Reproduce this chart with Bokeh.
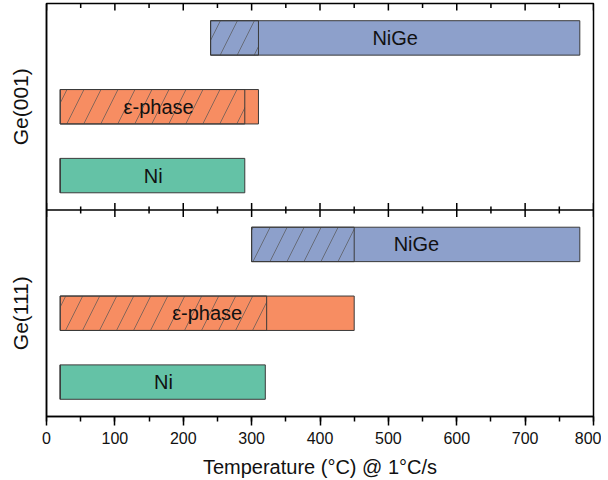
import math
from bokeh.plotting import figure
from bokeh.models import Range1d, SingleIntervalTicker, FixedTicker, Span, ColumnDataSource
from bokeh.core.properties import value
from bokeh.embed import file_html
from bokeh.resources import INLINE

# ---- data ----
phases = ["NiGe", "ε-phase", "Ni"]
colors = ["#8DA0CB", "#F78D62", "#64C2A6"]

ge001_start = [240, 20, 20]
ge001_hatch_end = [310, 290, 20]
ge001_end = [780, 310, 290]
ge001_label_x = [510, 164, 156]

ge111_start = [300, 20, 20]
ge111_hatch_end = [450, 322, 20]
ge111_end = [780, 450, 320]
ge111_label_x = [541, 235, 171]

ge001_rows = [5.5, 4.5, 3.5]
ge111_rows = [2.5, 1.5, 0.5]
panel_labels = {1.5: "Ge(111)", 4.5: "Ge(001)"}
panel_boundary = 3
y_top = 6

major_ticks = list(range(0, 801, 100))
minor_ticks = list(range(50, 800, 100))

FONT = "Liberation Sans"

p = figure(frame_width=547, frame_height=413,
           x_range=Range1d(0, 800), y_range=Range1d(0, y_top),
           output_backend="svg", toolbar_location=None,
           min_border_left=46, min_border_right=8, min_border_top=3, min_border_bottom=0,
           x_axis_location="below")
p.grid.visible = False
p.outline_line_color = "black"
p.outline_line_width = 1.5
p.background_fill_color = "white"
p.border_fill_color = "white"

# bottom x axis
xa = p.xaxis[0]
xa.ticker = SingleIntervalTicker(interval=100, num_minor_ticks=2)
xa.major_tick_in = 0
xa.major_tick_out = 9
xa.minor_tick_in = 0
xa.minor_tick_out = 5
xa.axis_line_width = 1.5
xa.major_tick_line_width = 1.5
xa.minor_tick_line_width = 1.5
xa.major_label_text_font = FONT
xa.major_label_text_font_size = "16px"
xa.major_label_text_color = "#111111"
xa.major_label_standoff = 6
xa.axis_label = "Temperature (°C) @ 1°C/s"
xa.axis_label_text_font = FONT
xa.axis_label_text_font_size = "20px"
xa.axis_label_text_font_style = "normal"
xa.axis_label_text_color = "#111111"
xa.axis_label_standoff = 9

# y axis with panel names
ya = p.yaxis[0]
ya.ticker = FixedTicker(ticks=list(panel_labels.keys()))
ya.major_label_overrides = panel_labels
ya.major_tick_in = 0
ya.major_tick_out = 0
ya.minor_tick_in = 0
ya.minor_tick_out = 0
ya.axis_line_width = 1.5
ya.major_label_orientation = "vertical"
ya.major_label_text_font = FONT
ya.major_label_text_font_size = "21px"
ya.major_label_text_color = "#111111"
ya.major_label_standoff = 15

# inward ticks along the top edge (clipped to the frame)
p.scatter(x=major_ticks, y=[y_top] * len(major_ticks), marker="dash", angle=math.pi / 2,
          size=14, line_color="black", line_width=1.5)
p.scatter(x=minor_ticks, y=[y_top] * len(minor_ticks), marker="dash", angle=math.pi / 2,
          size=9, line_color="black", line_width=1.5)

# panel divider with crossing ticks
p.add_layout(Span(location=panel_boundary, dimension="width", line_color="black", line_width=1.5))
p.scatter(x=major_ticks, y=[panel_boundary] * len(major_ticks), marker="dash", angle=math.pi / 2,
          size=14, line_color="black", line_width=1.5)
p.scatter(x=minor_ticks, y=[panel_boundary] * len(minor_ticks), marker="dash", angle=math.pi / 2,
          size=7, line_color="black", line_width=1.5)

def draw_panel(rows, start, hatch_end, end, label_x):
    src = ColumnDataSource(dict(y=rows, left=start, right=end, hend=hatch_end,
                                color=colors, name=phases, lx=label_x))
    p.hbar(y="y", left="left", right="right", height=0.5, source=src,
           fill_color="color", line_color="#3a3a3a", line_width=1)
    p.hbar(y="y", left="left", right="hend", height=0.5, source=src,
           fill_alpha=0, line_color="#3a3a3a", line_width=1,
           hatch_pattern="/", hatch_color="#555555", hatch_weight=0.7, hatch_scale=34)
    p.text(x="lx", y="y", text="name", source=src, text_align="center", text_baseline="middle",
           text_font=value(FONT), text_font_size="20px", text_color="#111111")

draw_panel(ge001_rows, ge001_start, ge001_hatch_end, ge001_end, ge001_label_x)
draw_panel(ge111_rows, ge111_start, ge111_hatch_end, ge111_end, ge111_label_x)

open("out.html", "w").write(file_html(p, INLINE))
